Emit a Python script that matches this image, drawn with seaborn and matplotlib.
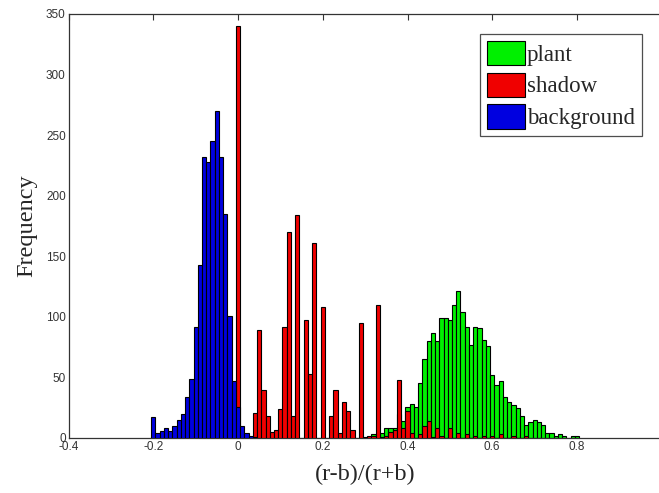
import numpy as np
import pandas as pd
import matplotlib
matplotlib.use("Agg")
import matplotlib.pyplot as plt
import seaborn as sns
from matplotlib.patches import Patch

# Histogram counts per 0.01-wide bin of (r-b)/(r+b), listed from the first bin centre
bin_width = 0.01

plant_start = 0.32
plant_counts = [3, 3, 4, 8, 8, 8, 20, 14, 26, 28, 26, 45, 65, 80, 87, 80, 99, 99, 97,
                110, 121, 104, 92, 77, 92, 91, 81, 76, 52, 44, 47, 34, 30, 27, 25, 18,
                11, 13, 15, 13, 11, 4, 4, 2, 3, 2, 0, 2, 2]

shadow_start = 0.00
shadow_counts = [340, 0, 0, 0, 21, 89, 40, 18, 5, 7, 24, 92, 170, 18, 184, 0, 97, 53, 161,
                 0, 108, 0, 18, 40, 4, 30, 22, 7, 0, 95, 1, 2, 2, 110, 1, 2, 5, 7, 48, 8,
                 22, 4, 0, 3, 10, 14, 1, 8, 2, 0, 8, 0, 4, 0, 3, 0, 2, 0, 2, 0, 2, 0, 3,
                 0, 0, 2, 0, 0, 2]

background_start = -0.20
background_counts = [17, 4, 6, 8, 6, 10, 15, 20, 34, 49, 92, 143, 232, 228, 245, 270, 232,
                     185, 101, 47, 26, 10, 4, 2, 1]

series_names = ["plant", "shadow", "background"]
series_colors = ["#00f000", "#f00000", "#0000e0"]

x_ticks = [-0.4, -0.2, 0, 0.2, 0.4, 0.6, 0.8]
x_tick_labels = ["-0.4", "-0.2", "0", "0.2", "0.4", "0.6", "0.8"]
y_ticks = [0, 50, 100, 150, 200, 250, 300, 350]


def to_frame(start, counts):
    centers = np.round(start + bin_width * np.arange(len(counts)), 3)
    return pd.DataFrame({"ratio": centers, "count": counts})


sns.set_style("white")
plt.rcParams["font.family"] = ["Liberation Serif", "DejaVu Serif"]

fig = plt.figure(figsize=(6.59, 4.93), dpi=100)
W, H = 659, 493
left_px, right_px, top_px, bottom_px = 68.5, 661.75, 14, 438
ax = fig.add_axes([left_px / W, 1 - bottom_px / H,
                   (right_px - left_px) / W, (bottom_px - top_px) / H])

frames = [to_frame(plant_start, plant_counts),
          to_frame(shadow_start, shadow_counts),
          to_frame(background_start, background_counts)]

for z, (df, color) in enumerate(zip(frames, series_colors)):
    lo = df["ratio"].min() - bin_width / 2
    hi = df["ratio"].max() + bin_width / 2
    sns.histplot(data=df, x="ratio", weights="count", binwidth=bin_width,
                 binrange=(lo, hi), color=color, alpha=1.0, edgecolor="black",
                 linewidth=0.8, ax=ax, zorder=2 + z)

ax.set_xlim(-0.4, 1.0)
ax.set_ylim(0, 350)
ax.set_xticks(x_ticks)
ax.set_xticklabels(x_tick_labels)
ax.set_yticks(y_ticks)

tick_font = ["Liberation Sans Narrow", "Liberation Sans", "DejaVu Sans"]
for lab in ax.get_xticklabels() + ax.get_yticklabels():
    lab.set_family(tick_font)
    lab.set_fontsize(8.5)
    lab.set_color("#333333")

ax.tick_params(direction="in", top=True, right=False, length=4, width=0.8,
               colors="#333333", pad=2)
for s in ax.spines.values():
    s.set_visible(True)
    s.set_color("#333333")
    s.set_linewidth(0.9)

ax.set_xlabel("(r-b)/(r+b)", fontsize=17.5, labelpad=8)
ax.set_ylabel("Frequency", fontsize=17.5, labelpad=6)

handles = [Patch(facecolor=c, edgecolor="black", linewidth=0.8, label=n)
           for n, c in zip(series_names, series_colors)]
leg = ax.legend(handles=handles, loc="upper right",
                bbox_to_anchor=(641.7 / W, 1 - 34 / H), bbox_transform=fig.transFigure,
                prop={"family": ["Liberation Serif"], "size": 16.5},
                frameon=True, fancybox=False, edgecolor="#222222",
                handlelength=1.65, handleheight=1.25, handletextpad=0.08,
                labelspacing=0.3, borderpad=0.3, borderaxespad=0)
leg.get_frame().set_linewidth(0.9)

fig.savefig("out.png", dpi=100, facecolor="white")
